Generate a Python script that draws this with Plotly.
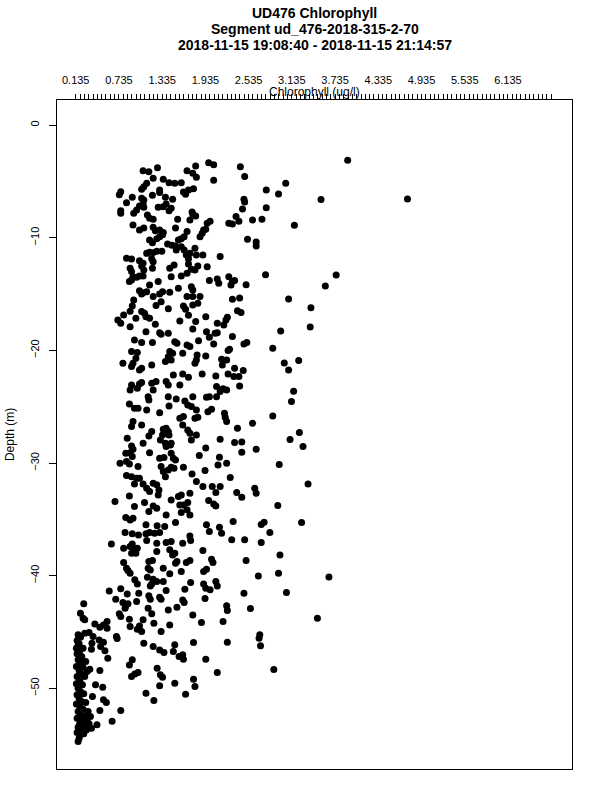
import numpy as np
import plotly.graph_objects as go

# ---- data (chlorophyll ug/l, depth m) ----
chl_upper = [1.07,1.15,1.27,1.68,1.80,1.76,1.81,1.98,2.05,2.42,2.48,2.05,1.35,1.43,1.51,1.60,1.21,1.12,1.08,1.05,
             2.78,2.95,0.76,0.74,0.84,0.92,1.05,1.08,1.20,1.30,1.30,1.38,1.48,1.63,1.70,1.77,1.66,2.47,2.48,
             0.76,0.76,0.94,0.98,1.02,1.07,1.08,1.28,1.35,1.39,1.43,1.46,1.76,1.80,1.72,1.75,2.45,2.78,
             0.93,1.02,1.08,1.13,1.16,1.21,1.21,1.24,1.30,1.35,1.55,1.52,1.68,2.00,1.96,2.26,2.31,2.36,2.40,2.59,2.72,
             1.16,1.20,1.26,1.30,1.34,1.41,1.47,1.52,1.56,1.60,1.64,1.86,1.89,1.91,1.94,2.52,2.64,2.64,
             0.84,0.91,1.02,1.07,1.12,1.16,1.21,1.26,1.33,1.19,1.21,1.53,1.60,1.64,1.67,1.72,1.70,1.79,1.81,1.90,2.14,
             0.89,0.91,0.93,0.98,1.02,1.07,1.08,1.05,1.20,1.44,1.50,1.70,1.74,1.79,1.83,1.96,1.46,1.60,1.68,
             1.99,2.10,2.12,2.26,2.31,2.34,2.29,2.50,2.77,0.88,0.91,1.16,1.28,1.02,1.05,1.07,1.12,1.21,1.30,1.34,1.44,
             1.56,1.74,1.76,1.68,1.76,1.86,1.32,1.25,0.94,0.92,1.42,1.63,1.66,1.76,1.83,2.31,2.41,2.38,2.43,
             0.72,0.76,0.80,0.89,0.97,1.05,1.09,1.11,1.16,1.24,0.89,1.58,1.70,1.80,1.94,2.10,2.19,2.22,2.24,1.76]
dep_upper = [-4.05,-4.14,-3.79,-4.05,-3.64,-4.29,-4.64,-3.34,-3.52,-3.70,-4.58,-4.91,-4.82,-5.12,-5.18,-5.12,-4.73,-5.18,-5.47,-5.71,
             -5.77,-6.12,-5.92,-6.18,-6.89,-6.42,-6.51,-6.66,-6.24,-5.77,-6.00,-6.42,-6.60,-5.94,-5.77,-5.65,-6.15,-6.60,-6.83,
             -7.60,-7.84,-7.84,-7.54,-7.19,-7.01,-7.31,-7.31,-7.25,-7.01,-7.60,-7.39,-7.90,-8.07,-8.43,-7.72,-7.45,-7.34,
             -8.87,-9.32,-9.14,-7.99,-8.28,-8.37,-9.08,-9.38,-9.32,-9.55,-8.37,-9.14,-9.46,-8.55,-8.73,-8.73,-8.79,-8.13,-8.55,-8.43,-8.37,
             -10.20,-10.44,-10.09,-9.91,-9.73,-10.56,-10.68,-10.74,-10.20,-10.09,-9.91,-9.91,-9.61,-9.32,-9.26,-10.14,-10.38,-10.74,
             -11.83,-11.89,-12.04,-12.27,-11.39,-11.30,-11.33,-11.21,-11.21,-11.86,-12.13,-11.09,-10.80,-11.09,-11.54,-11.39,-11.86,-10.94,-11.54,-11.54,-11.68,
             -12.72,-13.01,-13.46,-13.52,-13.40,-13.40,-12.87,-12.51,-12.72,-12.72,-12.42,-12.33,-12.81,-12.87,-12.51,-12.57,-13.46,-13.40,-13.16,
             -13.81,-13.67,-14.05,-13.46,-13.90,-13.81,-14.20,-14.17,-13.28,-13.90,-13.75,-14.20,-13.90,-14.70,-15.00,-14.88,-14.79,-15.23,-15.00,-14.79,-14.85,
             -14.49,-14.35,-14.64,-15.23,-15.23,-15.23,-15.68,-16.03,-15.53,-16.06,-16.30,-16.06,-16.36,-15.97,-15.82,-15.47,-15.35,-16.48,-16.65,
             -17.30,-17.60,-16.86,-16.53,-17.16,-16.56,-16.71,-17.01,-17.16,-17.69,-17.90,-17.39,-16.89,-17.45,-17.01,-17.60,-17.75,-17.30,-17.07,-18.10]

chl_upper_right = [3.91,3.05,3.54,4.74,3.17,3.75,3.60,3.09,3.40,3.39]
dep_upper_right = [-3.13,-5.18,-6.62,-6.57,-8.90,-13.31,-14.28,-15.44,-16.21,-17.92]

chl_middle = [1.11,1.30,1.32,1.42,1.95,2.07,2.10,2.31,0.95,1.05,1.20,1.51,1.54,1.68,1.72,1.84,1.99,2.05,2.27,2.25,2.47,2.51,2.87,
              0.91,0.99,0.97,0.79,0.93,0.91,1.02,1.05,1.19,1.44,1.48,1.42,1.38,1.46,1.62,1.82,1.81,1.79,1.94,2.16,2.23,2.17,
              1.49,1.62,1.70,1.89,2.08,2.25,2.34,2.46,2.33,2.40,0.91,0.89,1.02,1.05,0.99,1.19,1.21,1.25,1.39,1.42,1.58,2.09,2.14,2.23,2.18,2.41,
              0.88,0.95,1.00,1.12,1.15,1.14,1.30,1.42,1.43,1.53,1.65,1.69,1.74,1.81,1.76,1.95,1.99,2.09,1.97,2.02,2.20,2.21,2.23,2.87,
              0.93,0.91,1.05,1.19,1.15,1.35,1.39,1.42,1.43,1.34,1.31,1.38,1.46,1.58,1.63,1.62,1.69,1.72,1.74,1.81,1.79,1.83,2.38,2.59,2.14,2.34,2.44,
              0.85,0.91,0.93,0.89,0.83,0.92,0.84,0.75,0.88,1.00,1.16,1.07,1.30,1.36,1.46,1.49,1.52,1.39,1.45,1.85,1.94,2.13,2.11,2.23,2.44,2.64,2.96,
              0.84,0.91,0.98,1.02,0.95,1.32,1.35,1.38,1.42,1.46,1.50,1.63,1.75,1.81,1.93,2.28,
              1.07,1.12,1.16,1.21,1.26,1.29,1.28,0.88,0.68,0.95,1.09,1.21,1.15,1.26,1.39,1.46,1.56,1.60,1.63,1.69,1.72,1.58,1.60,1.68,1.72,
              1.90,2.03,2.14,2.08,1.98,2.05,2.08,2.37,2.44,2.62,2.64,2.94,0.83,0.93]
dep_middle = [-18.34,-18.43,-18.57,-18.49,-18.34,-18.49,-18.43,-18.78,-19.08,-19.31,-19.31,-19.23,-19.37,-19.52,-19.67,-19.14,-18.84,-19.43,-19.91,-20.02,-19.43,-19.31,-19.82,
              -20.11,-20.20,-20.70,-21.15,-21.15,-21.44,-21.74,-21.59,-21.30,-20.11,-20.26,-20.56,-21.00,-20.85,-20.26,-20.41,-20.85,-21.15,-20.50,-20.79,-20.85,-21.30,
              -22.18,-22.09,-22.39,-22.09,-22.27,-22.09,-21.59,-21.80,-22.33,-22.33,-23.07,-23.51,-22.98,-22.86,-23.37,-22.92,-23.51,-22.77,-22.77,-23.07,-23.07,-23.22,-23.66,-23.51,-23.40,-23.16,
              -24.76,-25.14,-25.14,-25.29,-24.40,-24.11,-25.53,-24.11,-24.93,-24.31,-24.49,-24.85,-24.99,-25.29,-24.11,-24.17,-24.11,-24.11,-25.44,-25.23,-25.59,-25.94,-26.32,-25.82,
              -26.32,-26.77,-26.62,-27.21,-27.60,-27.00,-26.92,-27.21,-27.51,-27.51,-27.95,-28.25,-28.25,-26.03,-25.88,-26.62,-27.06,-27.36,-27.95,-27.51,-26.03,-25.94,-26.92,-26.47,-27.89,-28.19,-28.13,
              -27.80,-28.48,-28.78,-29.08,-29.13,-29.43,-29.87,-30.02,-30.08,-30.32,-29.08,-28.25,-29.58,-29.52,-29.13,-29.58,-29.73,-28.54,-28.40,-29.34,-28.66,-29.49,-30.17,-30.02,-29.05,-28.78,-30.14,
              -31.12,-31.21,-31.35,-31.35,-31.86,-30.32,-30.76,-31.21,-30.61,-30.38,-30.47,-30.38,-30.97,-31.65,-30.67,-31.29,
              -31.86,-32.24,-32.54,-31.80,-31.94,-32.39,-32.83,-32.92,-33.42,-33.87,-33.51,-33.81,-34.31,-34.01,-34.61,-33.28,-32.98,-32.83,-33.72,-33.51,-32.68,-33.72,-34.40,-34.16,-34.61,
              -32.09,-32.09,-32.09,-32.62,-33.33,-33.63,-33.81,-32.62,-33.04,-32.24,-32.68,-33.78,-34.84,-34.90]

chl_middle_right = [2.98,3.03,3.23,3.09,3.16,3.13,3.24,3.11,3.29,3.36]
dep_middle_right = [-18.28,-21.12,-20.91,-21.74,-23.63,-24.55,-27.30,-27.92,-28.54,-31.86]

chl_lower = [0.89,1.11,1.265,1.37,1.52,1.95,2.13,2.32,0.82,0.92,1.006,1.11,1.16,1.23,1.30,1.12,1.26,1.39,1.46,1.62,1.72,1.73,1.99,2.16,2.30,2.48,
             0.63,0.80,0.89,0.92,0.95,0.99,0.97,0.91,1.26,1.44,1.48,1.51,1.90,
             0.80,0.84,0.86,0.89,1.15,1.20,1.14,1.17,1.35,1.44,1.52,1.54,1.60,1.67,1.72,1.91,1.95,2.02,2.04,2.50,2.67,
             0.955,0.99,1.13,1.21,1.26,1.35,1.17,1.19,0.60,0.76,0.69,0.85,1.01,0.79,0.83,0.82,0.86,0.74,0.76,0.98,1.15,1.17,1.30,1.32,1.39,
             1.62,1.64,1.54,1.42,1.65,1.73,1.91,1.94,2.00,2.08,2.10,1.93,2.23,2.24,2.47,2.56,
             0.246,0.20,0.237,0.26,0.40,0.47,0.52,0.57,0.57,0.88,0.89,0.99,1.05,1.02,1.07,1.14,1.19,1.22,1.32,1.44,1.76,1.88,2.18,
             0.168,0.20,0.26,0.32,0.376,0.46,0.52,0.70,0.71,0.36,0.17,0.237,0.353,0.48,0.54,0.58,1.08,1.21,1.30,1.36,1.51,1.49,1.57,1.62,1.63,1.77,1.94,2.24,
             0.17,0.20,0.274,0.33,0.293,0.47,0.88,0.92,0.91,0.955,1.00,1.265,1.31,1.34,1.30,1.51,1.77,1.79,2.10,
             0.41,0.51,0.367,0.52,0.56,0.47,0.76,0.64,0.43,0.353,1.11,1.22,1.66]
dep_lower = [-35.05,-35.49,-35.58,-35.64,-35.29,-35.49,-35.70,-35.20,-36.17,-36.29,-36.38,-36.29,-36.17,-36.23,-36.17,-36.88,-37.12,-37.06,-36.97,-37.12,-36.47,-36.88,-36.09,-36.23,-36.82,-36.82,
             -37.18,-37.56,-37.42,-37.18,-37.71,-37.56,-38.01,-38.01,-37.86,-37.71,-38.16,-38.01,-37.77,
             -38.84,-39.34,-39.55,-39.78,-38.75,-38.66,-39.34,-39.49,-39.34,-39.84,-38.90,-38.75,-39.63,-38.84,-38.66,-39.63,-39.43,-38.54,-38.84,-38.66,-40.02,
             -40.37,-40.73,-40.14,-40.32,-40.52,-40.52,-40.91,-40.73,-41.35,-41.17,-42.09,-41.62,-41.56,-42.39,-42.68,-42.89,-42.50,-43.39,-43.63,-42.30,-41.79,-42.09,-41.91,-42.09,-41.32,
             -42.15,-42.39,-42.80,-43.04,-41.20,-40.61,-40.73,-41.11,-41.26,-40.52,-40.91,-42.03,-42.68,-43.10,-41.56,-42.92,
             -42.50,-43.33,-43.78,-43.92,-44.28,-44.57,-44.37,-44.07,-44.66,-43.86,-44.52,-44.75,-44.96,-44.46,-43.92,-42.89,-43.39,-44.22,-44.96,-44.37,-43.48,-44.16,-44.07,
             -45.25,-45.40,-45.11,-45.05,-45.40,-45.70,-45.91,-45.40,-45.58,-46.00,-46.14,-46.44,-46.53,-46.29,-46.67,-47.33,-46.00,-46.29,-46.59,-46.82,-46.14,-46.73,-47.18,-47.03,-47.41,-45.94,-47.41,-45.91,
             -46.88,-47.47,-47.62,-48.30,-48.51,-48.42,-47.92,-47.47,-48.95,-48.72,-48.60,-48.21,-48.80,-49.01,-49.78,-49.54,-49.19,-49.84,-48.60,
             -49.69,-49.90,-50.73,-51.02,-51.26,-51.97,-51.97,-52.92,-53.24,-53.54,-50.43,-51.08,-50.52]

chl_lower_right = [2.71,2.75,3.27,2.83,2.71,2.97,2.95,3.65,3.06,3.49,2.69,2.68,2.70,2.885]
dep_lower_right = [-35.46,-35.26,-35.29,-36.17,-37.06,-38.16,-39.78,-40.11,-41.50,-43.78,-45.25,-45.55,-46.23,-48.33]

chl_bottom = [0.20,0.154,0.182,0.144,0.191,0.154,0.219,0.168,0.20,0.144,0.237,0.182,0.214,0.154,0.26,0.191,0.144,0.228,
              0.168,0.20,0.154,0.246,0.182,0.214,0.144,0.274,0.191,0.237,0.168,0.307,0.20,0.26,0.339,0.154,0.228,0.293,
              0.191,0.246,0.32,0.168,0.228,0.283,0.154,0.20,0.246,0.182,0.168]
dep_bottom = [-45.46,-45.76,-46.05,-46.44,-46.65,-46.94,-47.18,-47.47,-47.77,-48.07,-48.12,-48.42,-48.72,-48.95,-48.95,-49.31,-49.60,-49.69,
              -49.99,-50.28,-50.58,-50.49,-50.88,-51.17,-51.38,-51.26,-51.61,-51.85,-52.06,-52.06,-52.35,-52.44,-52.50,-52.65,-52.80,-52.86,
              -53.09,-53.24,-53.15,-53.45,-53.63,-53.69,-53.92,-54.13,-54.04,-54.42,-54.72]

chl = chl_upper + chl_upper_right + chl_middle + chl_middle_right + chl_lower + chl_lower_right + chl_bottom
dep = dep_upper + dep_upper_right + dep_middle + dep_middle_right + dep_lower + dep_lower_right + dep_bottom

x_label_ticks = [0.135, 0.735, 1.335, 1.935, 2.535, 3.135, 3.735, 4.335, 4.935, 5.535, 6.135]
x_minor_ticks = list(np.round(np.arange(0.135, 6.7351, 0.06), 3))
y_ticks = [0, -10, -20, -30, -40, -50]

title_lines = ["UD476 Chlorophyll", "Segment ud_476-2018-315-2-70",
               "2018-11-15 19:08:40 - 2018-11-15 21:14:57"]

FONT = "Liberation Sans, Arial, Helvetica, sans-serif"

fig = go.Figure(go.Scatter(x=chl, y=dep, mode="markers",
                           marker=dict(color="black", size=7, line=dict(width=0)),
                           hoverinfo="x+y"))

fig.update_layout(
    width=600, height=800,
    margin=dict(l=57, r=28, t=100, b=31),
    paper_bgcolor="white", plot_bgcolor="white",
    showlegend=False,
    font=dict(family=FONT, color="black", size=11),
    xaxis=dict(side="top", range=[-0.125, 7.024], showgrid=False, zeroline=False,
               showline=True, mirror=True, linecolor="black", linewidth=1,
               tickmode="array", tickvals=x_label_ticks, ticktext=[f"{v:.3f}" for v in x_label_ticks],
               ticks="outside", ticklen=5, tickwidth=1, tickcolor="black",
               tickfont=dict(size=11, family=FONT), ticklabelstandoff=6,
               minor=dict(tickmode="array", tickvals=x_minor_ticks, ticks="outside",
                          ticklen=5, tickwidth=1, tickcolor="black", showgrid=False)),
    yaxis=dict(range=[-57.16, 2.22], showgrid=False, zeroline=False,
               showline=True, mirror=True, linecolor="black", linewidth=1,
               tickmode="array", tickvals=y_ticks,
               ticks="outside", ticklen=7, tickwidth=1, tickcolor="black",
               tickangle=-90, tickfont=dict(size=11, family=FONT), ticklabelstandoff=6),
)

title_y = [1.1305, 1.1057, 1.0822]
for t, yy in zip(title_lines, title_y):
    fig.add_annotation(text=f"<b>{t}</b>", xref="paper", yref="paper", x=0.5, y=yy,
                       xanchor="center", yanchor="middle", showarrow=False,
                       font=dict(size=14, family=FONT, color="black"))

fig.add_annotation(text="Chlorophyll (ug/l)", xref="paper", yref="paper", x=0.5, y=1.0125,
                   xanchor="center", yanchor="middle", showarrow=False,
                   font=dict(size=12, family=FONT, color="black"))
fig.add_annotation(text="Depth (m)", xref="paper", yref="paper", x=-0.092, y=0.5,
                   xanchor="center", yanchor="middle", textangle=-90, showarrow=False,
                   font=dict(size=12, family=FONT, color="black"))

# remove the browser's default 8px body margin so the figure sits at the page origin
fig.write_html("out.html", config={"displayModeBar": False},
               post_script="document.body.style.margin='0';document.body.style.padding='0';")
